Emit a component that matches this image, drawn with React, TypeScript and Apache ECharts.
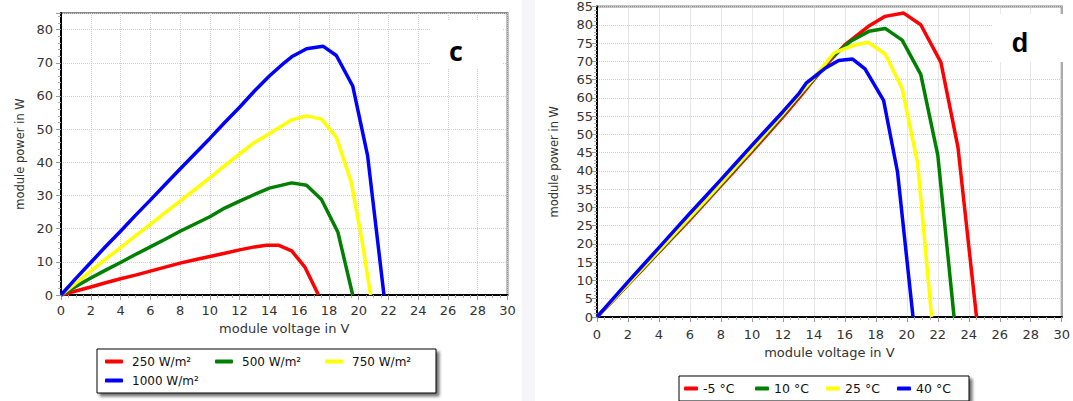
import React, { useEffect, useRef } from "react";
import * as echarts from "echarts";

// ---------- data (chart c: irradiance) ----------
const irradianceNames = ["250 W/m²", "500 W/m²", "750 W/m²", "1000 W/m²"];
const irr250: [number, number][] = [
  [0, 0], [1, 1.2], [2, 2.4], [3, 3.7], [4, 4.9], [5, 6.0], [6, 7.2], [7, 8.4],
  [8, 9.6], [9, 10.6], [10, 11.6], [11, 12.6], [12, 13.6], [13, 14.5], [13.8, 15],
  [14.6, 15], [15.5, 13.3], [16.4, 8.3], [17.3, 0],
];
const irr500: [number, number][] = [
  [0, 0], [1, 2.6], [2, 5.1], [3, 7.5], [4, 9.8], [5, 12.2], [6, 14.5], [7, 16.8],
  [8, 19.2], [9, 21.4], [10, 23.6], [11, 26.2], [12, 28.3], [13, 30.3], [14, 32.2],
  [15.5, 33.8], [16.5, 33.1], [17.5, 28.8], [18.6, 19], [19.6, 0],
];
const irr750: [number, number][] = [
  [0, 0], [1, 3.6], [2, 7.2], [3, 10.8], [4, 14.3], [5, 17.8], [6, 21.3], [7, 24.8],
  [8, 28.3], [9, 31.8], [10, 35.3], [11, 39], [12, 42.5], [13, 46], [14, 48.6],
  [15.5, 52.8], [16.5, 54], [17.5, 53], [18.5, 47.5], [19.5, 34], [20.2, 17], [20.8, 0],
];
const irr1000: [number, number][] = [
  [0, 0], [1, 5], [2, 9.8], [3, 14.6], [4, 19.2], [5, 24], [6, 28.6], [7, 33.3],
  [8, 38], [9, 42.6], [10, 47.2], [11, 52], [12, 56.6], [13, 61.5], [14, 66],
  [15, 70], [15.5, 71.8], [16.5, 74.2], [17.6, 75], [18.5, 72.2], [19.6, 63],
  [20.6, 42], [21.7, 0],
];

// ---------- data (chart d: temperature) ----------
const temperatureNames = ["-5 °C", "10 °C", "25 °C", "40 °C"];
const tempM5: [number, number][] = [
  [0, 0], [1, 4.4], [2, 8.9], [3, 13.3], [4, 17.8], [5, 22.2], [6, 26.7], [7, 31.3],
  [8, 36], [9, 40.6], [10, 45.3], [11, 50], [12, 54.8], [13, 59.8], [14, 65],
  [15, 70], [16, 74.5], [17.5, 79.5], [18.6, 82.3], [19.8, 83.2], [20.9, 80],
  [22.2, 69.7], [23.3, 46.5], [24.5, 0],
];
const temp10: [number, number][] = [
  [0, 0], [1, 4.5], [2, 9], [3, 13.5], [4, 18], [5, 22.5], [6, 27], [7, 31.6],
  [8, 36.3], [9, 41], [10, 45.7], [11, 50.5], [12, 55.3], [13, 60.3], [14, 65.2],
  [15, 70.5], [16.4, 75.6], [17.55, 78.2], [18.6, 79], [19.7, 75.8], [20.9, 66.4],
  [22, 44.3], [23.05, 0],
];
const temp25: [number, number][] = [
  [0, 0], [1, 4.6], [2, 9.1], [3, 13.7], [4, 18.2], [5, 22.8], [6, 27.3], [7, 31.9],
  [8, 36.6], [9, 41.3], [10, 46], [11, 50.8], [12, 55.6], [13, 60.6], [14, 65.5],
  [15.3, 72.3], [16.5, 74.3], [17.5, 75.2], [18.6, 72], [19.7, 62.5], [20.7, 42],
  [21.6, 0],
];
const temp40: [number, number][] = [
  [0, 0], [1, 4.8], [2, 9.6], [3, 14.3], [4, 19], [5, 23.7], [6, 28.4], [7, 33],
  [8, 37.6], [9, 42.3], [10, 47], [11, 51.6], [12, 56.2], [13, 61], [13.5, 64],
  [14.7, 68], [15.6, 70.2], [16.5, 70.6], [17.3, 67.9], [18.5, 59.3], [19.4, 39.7],
  [20.4, 0],
];

const seriesColors = ["#ff0000", "#008000", "#ffff00", "#0000ff"];
const panelLabels = ["c", "d"];

const FONT = "DejaVu Sans";

function makeXAxis(gridIndex: number, labelMargin: number, nameGap: number) {
  return {
    type: "value",
    gridIndex,
    min: 0,
    max: 30,
    interval: 2,
    name: "module voltage in V",
    nameLocation: "middle",
    nameGap,
    nameTextStyle: { fontFamily: FONT, fontSize: 13, color: "#333" },
    axisLine: { show: true, onZero: false, lineStyle: { color: "#000", width: 2 } },
    axisTick: { show: true, length: 5, lineStyle: { color: "#999", width: 1 } },
    minorTick: { show: true, splitNumber: 4, length: 3, lineStyle: { color: "#aaa", width: 1 } },
    axisLabel: { margin: labelMargin, fontFamily: FONT, fontSize: 13, color: "#333" },
    splitLine: { show: true, lineStyle: { color: "#cfcfcf", type: "dotted", width: 1 } },
  };
}

function makeYAxis(
  gridIndex: number,
  interval: number,
  minorSplit: number,
  labelMargin: number,
  nameGap: number,
  hideTop: boolean
) {
  return {
    type: "value",
    gridIndex,
    min: 0,
    max: 85,
    interval,
    name: "module power in W",
    nameLocation: "middle",
    nameGap,
    nameTextStyle: { fontFamily: FONT, fontSize: 11.5, color: "#333" },
    axisLine: { show: true, onZero: false, lineStyle: { color: "#000", width: 2 } },
    axisTick: { show: true, length: 5, lineStyle: { color: "#999", width: 1 } },
    minorTick: { show: true, splitNumber: minorSplit, length: 3, lineStyle: { color: "#aaa", width: 1 } },
    axisLabel: {
      margin: labelMargin,
      fontFamily: FONT,
      fontSize: 13,
      color: "#333",
      formatter: (v: number) => (hideTop && v === 85 ? "" : String(v)),
    },
    splitLine: { show: true, lineStyle: { color: "#cfcfcf", type: "dotted", width: 1 } },
  };
}

function lineSeries(name: string, data: [number, number][], color: string, idx: number) {
  return {
    name,
    type: "line",
    xAxisIndex: idx,
    yAxisIndex: idx,
    data,
    symbol: "none",
    showSymbol: false,
    smooth: false,
    lineStyle: { color, width: 3.5 },
    itemStyle: { color },
    emphasis: { disabled: true },
  };
}

export default function App() {
  const ref = useRef<HTMLDivElement>(null);

  useEffect(() => {
    if (!ref.current) return;
    const chart = echarts.init(ref.current, undefined, { renderer: "svg" });

    const irrData = [irr250, irr500, irr750, irr1000];
    const tempData = [tempM5, temp10, temp25, temp40];

    const legendCommon = {
      orient: "horizontal",
      backgroundColor: "#fff",
      borderColor: "#000",
      borderWidth: 1,
      borderRadius: 0,
      shadowBlur: 3,
      shadowColor: "rgba(0,0,0,0.55)",
      shadowOffsetX: 3,
      shadowOffsetY: 3,
      icon: "roundRect",
      itemHeight: 4,
      selectedMode: false,
    };

    const option: any = {
      animation: false,
      backgroundColor: "#fff",
      grid: [
        {
          left: 61,
          top: 13,
          width: 446.5,
          height: 282,
          show: true,
          borderColor: "#8a8a8a",
          borderWidth: 2,
          backgroundColor: "transparent",
        },
        {
          left: 597,
          top: 5.5,
          width: 468,
          height: 311.5,
          show: true,
          borderColor: "#8a8a8a",
          borderWidth: 2,
          backgroundColor: "transparent",
        },
      ],
      xAxis: [makeXAxis(0, 9, 25), makeXAxis(1, 11, 27)],
      yAxis: [makeYAxis(0, 10, 5, 8, 35, true), makeYAxis(1, 5, 5, 4, 37, false)],
      legend: [
        {
          ...legendCommon,
          left: 97,
          top: 349,
          width: 325,
          padding: [6.5, 8, 6.5, 8],
          itemWidth: 18,
          itemGap: 7,
          data: irradianceNames,
          textStyle: { fontFamily: FONT, fontSize: 12, color: "#111", width: 76, lineHeight: 10, padding: [0, 0, 0, 4] },
        },
        {
          ...legendCommon,
          left: 679,
          top: 376,
          width: 285,
          padding: [6, 5, 6, 5],
          itemWidth: 14,
          itemGap: 4,
          data: temperatureNames,
          textStyle: { fontFamily: FONT, fontSize: 12.5, color: "#111", width: 48, lineHeight: 10 },
        },
      ],
      graphic: [
        {
          type: "rect",
          silent: true,
          shape: { x: 522, y: 0, width: 13, height: 401 },
          style: { fill: "#f6f6f9" },
          z: 0,
        },
        {
          type: "rect",
          silent: true,
          shape: { x: 430, y: 21, width: 72, height: 47 },
          style: { fill: "#fff" },
          z: 5,
        },
        {
          type: "text",
          silent: true,
          x: 456,
          y: 50,
          style: {
            text: panelLabels[0],
            fontFamily: "Open Sans",
            fontWeight: "bold",
            fontSize: 27,
            fill: "#000",
            align: "center",
            verticalAlign: "middle",
          },
          z: 6,
        },
        {
          type: "rect",
          silent: true,
          shape: { x: 993, y: 14, width: 70, height: 48 },
          style: { fill: "#fff" },
          z: 5,
        },
        {
          type: "text",
          silent: true,
          x: 1020,
          y: 43,
          style: {
            text: panelLabels[1],
            fontFamily: "Liberation Sans",
            fontWeight: "bold",
            fontSize: 27,
            fill: "#000",
            align: "center",
            verticalAlign: "middle",
          },
          z: 6,
        },
      ],
      series: [
        ...irradianceNames.map((n, i) => lineSeries(n, irrData[i], seriesColors[i], 0)),
        ...temperatureNames.map((n, i) => lineSeries(n, tempData[i], seriesColors[i], 1)),
      ],
    };

    chart.setOption(option);
    return () => chart.dispose();
  }, []);

  return (
    <div
      ref={ref}
      style={{ position: "fixed", left: 0, top: 0, width: 1073, height: 401, background: "#fff" }}
    />
  );
}
